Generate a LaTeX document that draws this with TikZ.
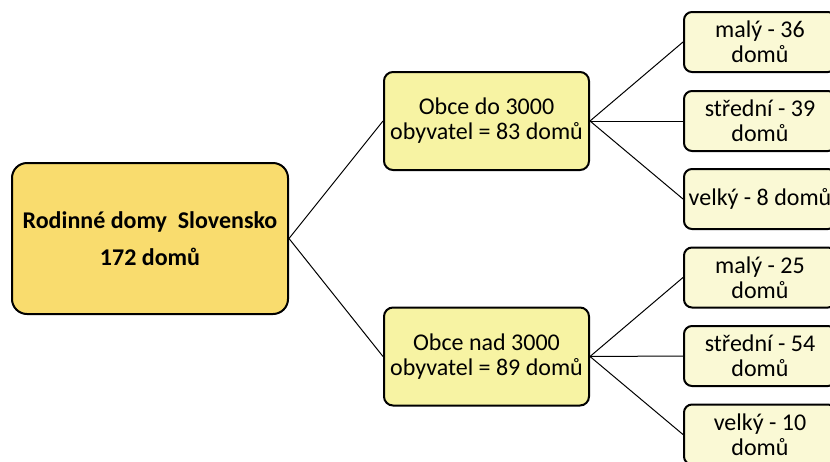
\documentclass[tikz,border=0pt]{standalone}
\usepackage{fontspec}
\setmainfont{Carlito}
\usetikzlibrary{positioning}
\definecolor{rootfill}{HTML}{F9DC6E}
\definecolor{townfill}{HTML}{F7F3A3}
\definecolor{sizefill}{HTML}{FAF9D5}
\tikzstyle{root} = [rectangle, rounded corners=15pt, minimum width=276pt, minimum height=151pt, align=center, draw=black, line width=2pt, fill=rootfill, font=\fontsize{24}{37}\selectfont\bfseries]
\tikzstyle{town} = [rectangle, rounded corners=9pt, minimum width=205pt, minimum height=98pt, inner sep=2pt, align=center, draw=black, line width=2pt, fill=townfill, font=\fontsize{24}{25}\selectfont]
\tikzstyle{size} = [rectangle, rounded corners=8pt, minimum width=152pt, minimum height=60pt, inner sep=1pt, align=center, draw=black, line width=2pt, fill=sizefill, font=\fontsize{24}{25}\selectfont]
\tikzstyle{line} = [line width=1pt, black]

\begin{document}
\begin{tikzpicture}[x=1pt, y=-1pt]
           \useasboundingbox (0,0) rectangle (830,461);
           \node (slovensko) [root] at (150,238.5) {Rodinné domy\ \ Slovensko\\172 domů};
           \node (do3000) [town] at (486.5,121) {Obce do 3000\\obyvatel = 83 domů};
           \node (nad3000) [town] at (486.5,356.5) {Obce nad 3000\\obyvatel = 89 domů};
           \node (malyA) [size] at (760,42) {malý - 36\\domů};
           \node (stredniA) [size] at (760,121) {střední - 39\\domů};
           \node (velkyA) [size] at (760,199) {velký - 8 domů};
           \node (malyB) [size] at (760,277.5) {malý - 25\\domů};
           \node (stredniB) [size] at (760,356) {střední - 54\\domů};
           \node (velkyB) [size] at (760,434.5) {velký - 10\\domů};

           \draw [line] (slovensko.east) -- (do3000.west);
           \draw [line] (slovensko.east) -- (nad3000.west);
           \draw [line] (do3000.east) -- (malyA.west);
           \draw [line] (do3000.east) -- (stredniA.west);
           \draw [line] (do3000.east) -- (velkyA.west);
           \draw [line] (nad3000.east) -- (malyB.west);
           \draw [line] (nad3000.east) -- (stredniB.west);
           \draw [line] (nad3000.east) -- (velkyB.west);
        \end{tikzpicture}
\end{document}
